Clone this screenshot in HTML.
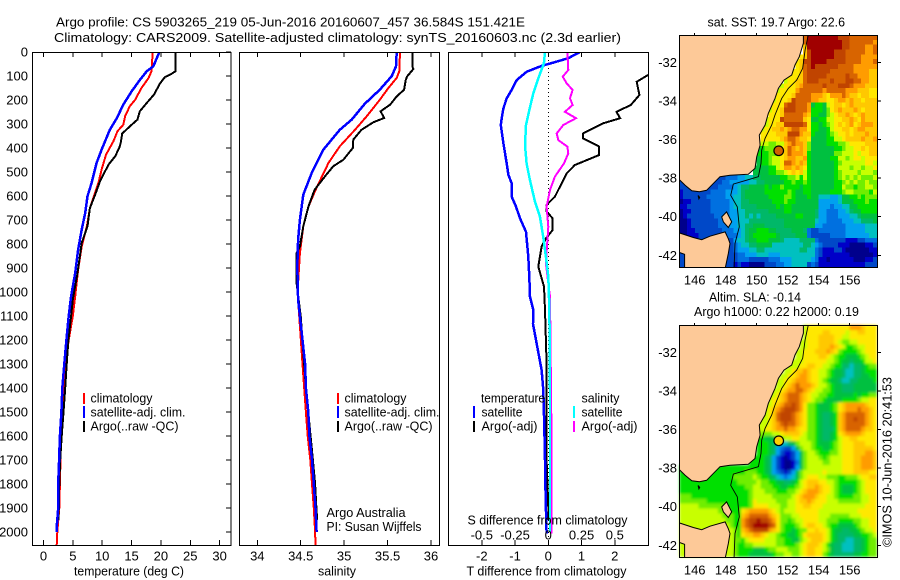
<!DOCTYPE html>
<html lang="en">
<head>
<meta charset="utf-8">
<title>Argo profile</title>
<style>
html,body{margin:0;padding:0;background:#fff;}
svg{display:block;font-family:"Liberation Sans",sans-serif;font-size:13px;fill:#000;}
text{fill:#000;}
.line{fill:none;stroke-width:2;stroke-linejoin:miter;shape-rendering:crispEdges;}
.frame{fill:none;stroke:#000;stroke-width:1;shape-rendering:crispEdges;}
.tick{stroke:#000;stroke-width:1;shape-rendering:crispEdges;}
.bar{stroke-width:2;shape-rendering:crispEdges;}
</style>
</head>
<body>
<svg id="fig" xmlns="http://www.w3.org/2000/svg" width="900" height="580" viewBox="0 0 900 580">
  <defs>
    <clipPath id="clip-t"><rect x="33" y="52" width="198" height="493"/></clipPath>
    <clipPath id="clip-s"><rect x="240" y="52" width="199" height="493"/></clipPath>
    <clipPath id="clip-d"><rect x="449" y="52" width="199" height="493"/></clipPath>
    <clipPath id="clip-m1"><rect x="679" y="35" width="198" height="232"/></clipPath>
    <clipPath id="clip-m2"><rect x="679" y="325" width="198" height="232"/></clipPath>
    <filter id="sla-smooth" filterUnits="userSpaceOnUse" x="670" y="320" width="215" height="245"><feGaussianBlur stdDeviation="1.2"/></filter>
  </defs>

  <text x="56" y="26.5" textLength="469" lengthAdjust="spacingAndGlyphs">Argo profile: CS 5903265_219 05-Jun-2016 20160607_457 36.584S 151.421E</text>
  <text x="54" y="42" textLength="567" lengthAdjust="spacingAndGlyphs">Climatology: CARS2009. Satellite-adjusted climatology: synTS_20160603.nc (2.3d earlier)</text>

  <g id="panel-t"></g>
  <g id="panel-s"></g>
  <g id="panel-d"></g>
  <g id="map-1"></g>
  <g id="map-2"></g>

  <text x="74" y="575.5" textLength="110" lengthAdjust="spacingAndGlyphs">temperature (deg C)</text>
  <text x="318" y="575.5" textLength="38" lengthAdjust="spacingAndGlyphs">salinity</text>
  <text x="466.5" y="575.5" textLength="160" lengthAdjust="spacingAndGlyphs">T difference from climatology</text>
  <text x="467.5" y="524.5" textLength="160" lengthAdjust="spacingAndGlyphs">S difference from climatology</text>

  <g>
    <line class="bar" x1="84" x2="84" y1="393" y2="404" stroke="#f00"/>
    <line class="bar" x1="84" x2="84" y1="406" y2="418" stroke="#00f"/>
    <line class="bar" x1="84" x2="84" y1="421" y2="432" stroke="#000"/>
    <text x="90.5" y="402.5" textLength="62" lengthAdjust="spacingAndGlyphs">climatology</text>
    <text x="90.5" y="416.5" textLength="95" lengthAdjust="spacingAndGlyphs">satellite-adj. clim.</text>
    <text x="90.5" y="430.5" textLength="88" lengthAdjust="spacingAndGlyphs">Argo(..raw -QC)</text>
  </g>
  <g>
    <line class="bar" x1="338" x2="338" y1="393" y2="404" stroke="#f00"/>
    <line class="bar" x1="338" x2="338" y1="406" y2="418" stroke="#00f"/>
    <line class="bar" x1="338" x2="338" y1="421" y2="432" stroke="#000"/>
    <text x="344.5" y="402.5" textLength="62" lengthAdjust="spacingAndGlyphs">climatology</text>
    <text x="344.5" y="416.5" textLength="95" lengthAdjust="spacingAndGlyphs">satellite-adj. clim.</text>
    <text x="344.5" y="430.5" textLength="88" lengthAdjust="spacingAndGlyphs">Argo(..raw -QC)</text>
  </g>
  <text x="326.5" y="517" textLength="79" lengthAdjust="spacingAndGlyphs">Argo Australia</text>
  <text x="326.5" y="531" textLength="95" lengthAdjust="spacingAndGlyphs">PI: Susan Wijffels</text>

  <g>
    <text x="481" y="402.5" textLength="64" lengthAdjust="spacingAndGlyphs">temperature</text>
    <line class="bar" x1="474" x2="474" y1="406" y2="418" stroke="#00f"/>
    <text x="481.5" y="416.5" textLength="41" lengthAdjust="spacingAndGlyphs">satellite</text>
    <line class="bar" x1="474" x2="474" y1="421" y2="432" stroke="#000"/>
    <text x="481.5" y="430.5" textLength="56" lengthAdjust="spacingAndGlyphs">Argo(-adj)</text>
    <text x="581.5" y="402.5" textLength="38" lengthAdjust="spacingAndGlyphs">salinity</text>
    <line class="bar" x1="574" x2="574" y1="406" y2="418" stroke="#0ff"/>
    <text x="581.5" y="416.5" textLength="41" lengthAdjust="spacingAndGlyphs">satellite</text>
    <line class="bar" x1="574" x2="574" y1="421" y2="432" stroke="#f0f"/>
    <text x="581.5" y="430.5" textLength="56" lengthAdjust="spacingAndGlyphs">Argo(-adj)</text>
  </g>

  <text x="707.5" y="26.5" textLength="137.5" lengthAdjust="spacingAndGlyphs">sat. SST: 19.7 Argo: 22.6</text>
  <text x="709" y="301.5" textLength="92" lengthAdjust="spacingAndGlyphs">Altim. SLA: -0.14</text>
  <text x="694" y="316" textLength="165" lengthAdjust="spacingAndGlyphs">Argo h1000: 0.22 h2000: 0.19</text>
  <text transform="translate(891.5,547) rotate(-90)" textLength="170" lengthAdjust="spacingAndGlyphs">©IMOS 10-Jun-2016 20:41:53</text>
</svg>

<script>
// ---------- axis tick data ----------
const depthTicks = [0,100,200,300,400,500,600,700,800,900,1000,1100,1200,1300,1400,1500,1600,1700,1800,1900,2000];
const tempTicks = [0,5,10,15,20,25,30];
const salTicks = [34,34.5,35,35.5,36];
const tDiffTicks = [-2,-1,0,1,2];
const sDiffTicks = [-0.5,-0.25,0,0.25,0.5];
const sDiffTickLabels = ['-0.5','-0.25','0','0.25','0.5'];
const lonTicks = [146,148,150,152,154,156];
const latTicks = [-32,-34,-36,-38,-40,-42];

// ---------- temperature profiles ----------
const tClimDepth = [0,80,108,150,199,226,268,303,330,372,428,490,546,608,650,726,810,907,1018,1100,1200,1300,1400,1500,1600,1700,1800,1900,2000,2055];
const tClimValue = [18.6,18.4,17.9,16.7,15.6,14.7,13.9,13.6,12.6,11.9,10.65,9.9,9.35,8.5,7.9,7.4,6.5,5.9,5.4,5.0,4.3,3.8,3.4,3.15,3.0,2.9,2.8,2.7,2.35,2.25];
const tSatDepth = [0,25,60,80,115,164,219,275,324,407,462,546,601,671,740,824,921,1018,1100,1200,1300,1400,1500,1600,1700,1800,1900,1980,2000];
const tSatValue = [19.75,19.3,18.7,17.6,16.45,15.0,13.6,12.5,11.3,9.9,9.05,8.2,7.5,7.1,6.5,5.9,5.4,4.7,4.3,3.9,3.55,3.2,3.05,2.8,2.65,2.5,2.5,2.25,2.25];
const tArgoDepth = [0,80,94,104,129,178,212,247,282,310,340,379,400,435,470,497,540,594,650,726,796,921,1032,1100,1200,1300,1400,1500,1600,1700,1800,1900,1950];
const tArgoValue = [22.5,22.5,21.6,20.7,19.9,18.8,17.6,16.4,16.0,14.7,13.4,13.15,12.9,12.2,11.05,10.5,9.6,8.8,7.9,7.5,6.5,5.8,5.0,4.7,4.25,3.95,3.7,3.4,3.1,2.85,2.7,2.6,2.55];

// ---------- salinity profiles ----------
const sClimDepth = [0,80,108,150,199,268,324,393,462,567,643,726,838,962,1032,1300,1400,1500,1600,1700,1800,1900,2000,2055];
const sClimValue = [35.643,35.635,35.605,35.51,35.41,35.26,35.125,34.95,34.82,34.68,34.59,34.53,34.49,34.47,34.47,34.52,34.54,34.56,34.58,34.61,34.63,34.65,34.665,34.67];
const sSatDepth = [0,60,101,157,215,282,324,407,504,594,699,782,893,1032,1300,1400,1500,1600,1700,1800,1900,2000];
const sSatValue = [35.605,35.597,35.547,35.41,35.24,35.086,34.95,34.76,34.626,34.53,34.49,34.47,34.46,34.47,34.55,34.56,34.587,34.6,34.63,34.65,34.67,34.683];
const sArgoDepth = [0,60,71,101,115,157,185,219,247,275,293,324,365,400,449,476,518,574,643,726,810,838,962,1100,1400,1700,1800,1900,1950];
const sArgoValue = [35.785,35.785,35.797,35.727,35.71,35.69,35.605,35.53,35.42,35.46,35.336,35.2,35.105,35.1,34.99,34.875,34.78,34.66,34.59,34.53,34.49,34.453,34.453,34.5,34.56,34.64,34.665,34.68,34.69];

// ---------- difference profiles ----------
const dTSatDepth = [0,26,44,58,82,117,158,193,235,276,304,381,464,512,547,603,644,693,749,853,936,1019,1075,1133,1200,1325,1408,1560,1700,1850,2006];
const dTSatValue = [0.95,0.6,0.15,-0.2,-0.65,-0.95,-1.1,-1.25,-1.35,-1.4,-1.43,-1.35,-1.25,-1.2,-1.1,-1.1,-0.97,-0.85,-0.67,-0.6,-0.57,-0.55,-0.45,-0.46,-0.37,-0.2,-0.15,-0.12,-0.1,-0.08,-0.05];
const dTArgoDepth = [0,96,124,179,221,249,276,297,339,360,394,429,471,506,603,637,665,693,742,776,811,894,978,1075,1300,1500,1700,1900,1950];
const dTArgoValue = [4.0,3.0,2.66,2.74,2.48,2.05,2.16,1.65,1.05,1.05,1.53,1.53,0.8,0.55,0.2,-0.05,-0.05,0.13,0.13,-0.07,-0.2,-0.3,-0.13,-0.1,-0.05,-0.05,-0.05,0.0,0.0];
const dSSatDepth = [0,47,110,172,242,304,388,464,533,624,686,769,853,936,1075,1400,2000];
const dSSatValue = [-0.025,-0.033,-0.075,-0.113,-0.143,-0.168,-0.175,-0.163,-0.138,-0.1,-0.063,-0.038,-0.018,0,0.008,0.0125,0.0125];
const dSArgoDepth = [0,75,103,131,158,193,221,249,276,304,339,367,394,422,464,519,575,644,728,797,881,964,1019,1638,2006];
const dSArgoValue = [0.143,0.15,0.108,0.138,0.183,0.163,0.183,0.125,0.208,0.113,0.063,0.075,0.143,0.15,0.118,0.05,0.0125,-0.0125,0,-0.008,-0.018,0,0.0125,0.025,0.025];

// ---------- geography ----------
const mainlandLon = [145,153.01,153.01,152.75,152.47,152.26,151.76,151.40,151.18,150.75,150.54,150.17,150.22,150.0,149.89,149.46,148.28,147.63,146.77,146.30,145.81,145.38,145];
const mainlandLat = [-30.5,-30.5,-31.01,-31.71,-32.14,-32.66,-32.92,-33.35,-33.87,-34.65,-35.25,-35.77,-36.29,-36.90,-37.50,-37.80,-37.85,-37.93,-38.63,-38.71,-38.66,-38.37,-38.07];
const tasmaniaLon = [145,145.91,146.45,146.99,147.96,148.17,148.28,148.17,147.96,145.35,145.35,145];
const tasmaniaLat = [-40.84,-41.08,-41.19,-41.01,-40.79,-41.14,-41.39,-41.91,-42.7,-42.7,-41.95,-41.85];
const flindersLon = [147.74,148.06,148.39,148.17,147.85];
const flindersLat = [-40.01,-39.75,-40.27,-40.56,-40.27];
const kingLon = [146.22,146.32,146.27];
const kingLat = [-38.9,-39.0,-39.08];
const isobathLon = [153.33,153.12,152.97,152.58,152.04,151.61,151.18,150.97,150.54,150.32,150.28,150.11,149.35,148.49,148.32,148.75,148.88,148.60,148.54];
const isobathLat = [-30.58,-31.36,-32.31,-32.92,-33.35,-33.87,-34.73,-35.25,-35.94,-36.55,-37.24,-37.93,-38.11,-38.31,-38.89,-39.49,-40.53,-41.39,-42.61];
const floatLon = [151.421];
const floatLat = [-36.584];

// ---------- map colour levels ----------
const levelColors = {'0':'#00008c','1':'#0000c8','2':'#0048c8','3':'#0070e0','4':'#00a0f0','5':'#00c0c0','6':'#00b868','7':'#00c040','8':'#00e000','9':'#70ee00','a':'#c8ff00','b':'#ffe800','c':'#ffc800','d':'#ff9c00','e':'#d86400','f':'#c04400','g':'#a00000'};

// ---------- SST cells: rows north to south, right-aligned to the eastern edge ----------
const sstRows = [
'eggggggggfffeeeeeee',
'egggggggggffeeeeeed',
'cgggggggggffeeeedde',
'cfggggggfffeeeeedde',
'bcfggggggfffeeeedddd',
'bcffggggfffffeeeeddde',
'bcefgffffffeeeedddddd',
'bbceffffffeeeeeeddddcc',
'bbbcefffffeeeeefeedddcc',
'abbccefffeeefeeeffeeddcc',
'abbbcdeeeeefeeefffedddccc',
'abbbbdeeeeeedeeeeedddcccbb',
'bbbbceeeedddcbdddedccbccbb',
'abbbcfeeeeddccbbcddcdccbccc',
'abbbeffeeed'+'7887'+'abccbcdcccccc',
'abbcfffeeed'+'8887'+'9bcdcccdcbccc',
'bbbceeeeedc'+'8877'+'9abccdcbcdccc',
'abbbfeeeeecb'+'7788'+'aabbccdcbdccc',
'abbccfffffeb'+'8878'+'9abcbcdbcdddc',
'abbccdcdeeddb'+'8877'+'8abbccbcddccc',
'bbbbcccfffdcc'+'8777'+'89abbcbcccdcc',
'bbbbbcdeedccb'+'7777'+'88aabccccdccd',
'aa99aacdeddc9'+'7777'+'88899abbbbccc',
'78999abcedcdc9'+'7777'+'77889aabbcbcc',
'888999bcedddc8'+'7777'+'7799aaababbcc',
'7889aabcddccd8'+'7777'+'788aa9abbabbb',
'7889aabeedcdc8'+'7777'+'7789aaaaaabba',
'777788abddcdcb8'+'7777'+'778aaa9aa9aab',
'77778899abcbca8'+'7777'+'7789aaaa9aaa9',
'222222222222'+'33344556'+'6777778899a8a8'+'7777'+'7789a9a9a999a',
'222222222'+'2233444445566'+'777778898898'+'7777'+'77889a9a99a99',
'2222222'+'222333'+'34'+'5'+'667777878898888788'+'7777'+'7788a99899aa9',
'12222222333344'+'45'+'677777888888987788'+'7777'+'78889aa99998a',
'12222223333344'+'55'+'677777788889987778'+'7755'+'5445778898999',
'01122222333334'+'55'+'667777778889887777'+'7744'+'4445777888988',
'11222222333334'+'55'+'666677777878877777'+'7744'+'4344557788888',
'01122222333334'+'45'+'566666677778877777'+'7644'+'3334456778888',
'01222222233334'+'45'+'565656666777778877'+'7644'+'3334445567777',
'00122222223334'+'45'+'556666666667777777'+'7544'+'3333444556667',
'00122222223334'+'45'+'566777666667777777'+'7443'+'3333344444555',
'00112222222333'+'44'+'567788877666677763'+'2233'+'3333344444555',
'00111222223333'+'34'+'567888888766667773'+'2222'+'2333344444455',
'22222222222222'+'45'+'567788877765555666'+'6322'+'2222211122333',
'22222222222222'+'34'+'556677775555555566'+'5432'+'2221110000112',
'22222222222222'+'34'+'445566555555555665'+'5321'+'1122100000011',
'22222222222222'+'23'+'344455544455555555'+'5321'+'1111110000001',
'22222222222222'+'23'+'332222233344455555'+'4311'+'0111111000112',
'22222222222222'+'12'+'110000222334455552'+'3211'+'1111111111222'
];

// ---------- SLA cells: same layout ----------
const slaRows = [
'abbbbbbbbbbbdddcbbb',
'abbbbccbbbbabbccbbb',
'abbbccccbbaabbbbbbb',
'aabbbccccba99aabbbbb',
'aabbbcccdcba889aabbb',
'aabbbcccdcb988889abbb',
'aabbbbccba98877789abb',
'aaabbbbbbaa98776778aab',
'aaabbccbbaa988665667899',
'aabccdcbbaa9877655667888',
'aabbcddcbbaa9877655667788',
'aabbcdddcbba98776556677778',
'aabcdedddcbaa9877666777777',
'aabcddeedcbaa99877666777777',
'aabcdeeedcbaa998877777878899',
'abbcdeeedcba998777788889aabb',
'aabcdeefedb'+'99877789'+'bcdddddcbb',
'aabcdefffedb'+'99877789'+'bcdddeddcb',
'aabcefffedcb'+'99876678'+'cdeeeeedcb',
'aaabcefffedcb'+'99876678'+'cdeefeedcb',
'aaabcdefeedcb'+'99876678'+'cdeeeeedcb',
'aabbcddeddcbb'+'99876668'+'cdeeeedccb',
'a999aabccccba'+'99876678'+'bcddddcbbb',
'8877789aabbaa9'+'9876678'+'abbccbbbbb',
'88876655679aaa'+'9877789'+'abbbcccbbb',
'888764322479aa'+'9887789'+'abbbcccccb',
'8887642112479a'+'a988899'+'abbbcccddc',
'888876421012479'+'aaa989aa'+'abbbccdddc',
'888876421001379'+'aaaa99aa'+'abbbccdddc',
'888888888888888888'+'888876421001479'+'aaaaaaaa'+'abbbccdddc',
'888888888888888889'+'99887643212479a'+'aaaabaaa'+'abbbccccbb',
'888888888888889999'+'9a988765434579a'+'bbbaa999'+'88999abbcc',
'888888888888888999'+'99a9988776678ab'+'cccbbaa9'+'888889abbb',
'8888888888888888899'+'aa9998877889abc'+'cdcbba9'+'877789abbb',
'8888888888888888889'+'aaa99988899abcd'+'ddcbba9'+'877789abbb',
'9998888888888888889'+'aaaaa99999abcdd'+'dcbbaa9'+'888899aabb',
'9999999888888888889'+'baaaaa999aabccd'+'cbbbaaa'+'999999aabb',
'aaaaa99999998888889'+'bbbbaaa99aabbcc'+'bbbaaaa'+'aaaaaaabbb',
'aaaaaaaaaa999888'+'bcdddddcba9aaabbb'+'bbbaaaaa'+'aaaaabbbbb',
'aaaaaaaaaaa99988'+'cdeeeeedcb999aabb'+'bbbaaa99'+'999aaabbbb',
'aaaaaaaaaaaa9988'+'deffgffedb9989aab'+'bbbaa999'+'888899aabb',
'aaaaaaaaaaaaa988'+'defggggfeb98889ab'+'ccbba988'+'777789aabb',
'aaaaaaaaaaaaaa98'+'cdeffffdcb9887899'+'bbcbba87'+'7667789aab',
'aaaaaaaaaaaaaa98'+'bccddcbaa9887789b'+'ccccba87'+'666677889a',
'aaaaaaaaaaaaaa998'+'abbbbaaa9988779ab'+'cccba87'+'6655667899',
'aaaaaaaaaaaaaa988'+'99aaaaaa998889abc'+'ccba876'+'6555667899',
'aaaaaaaaaaaaaa988'+'88777899aaa999abc'+'cbba976'+'6555667899',
'aaaaaaaaaaaaaa988'+'8777777899aa99abc'+'cbb9876'+'6666778899'
];

// ---------- axis functions ----------
const NS = 'http://www.w3.org/2000/svg';
const yDepth = d => 52 + 0.24 * d;
const xTemp = t => 43.5 + 5.87 * t;
const xSal = s => 257.3 + 86.85 * (s - 34);
const xTDiff = t => 548.3 + 33.25 * t;
const xSDiff = s => 548.3 + 133 * s;
const xLon = lon => 694.7 + 15.5 * (lon - 146);
const yLat = (lat, off) => off + 62.3 + 19.3 * (-32 - lat);

function make(tag, attrs, parent, text) {
  const el = document.createElementNS(NS, tag);
  for (const k in attrs) el.setAttribute(k, attrs[k]);
  if (text !== undefined) el.textContent = text;
  parent.appendChild(el);
  return el;
}

function drawFrame(g, x, y, w, h, name) {
  const el = make('rect', {x: x, y: y, width: w, height: h, class: 'frame'}, g);
  
  
}

function drawTick(g, x1, y1, x2, y2, name) {
  const el = make('line', {x1: x1, y1: y1, x2: x2, y2: y2, class: 'tick'}, g);
  
  
}

function drawLabel(g, x, y, str, anchor, name) {
  const el = make('text', {x: x, y: y, 'text-anchor': anchor}, g, str);
  
  
}

function drawProfile(g, depths, values, xFn, color, clip, name, width) {
  const pts = depths.map((d, i) => xFn(values[i]).toFixed(1) + ',' + yDepth(d).toFixed(1)).join(' ');
  const el = make('polyline', {points: pts, class: 'line', stroke: color, 'clip-path': 'url(#' + clip + ')', style: 'stroke-width:' + (width || 2)}, g);
  
  
}

// ---------- temperature panel ----------
const gT = document.getElementById('panel-t');
drawProfile(gT, tClimDepth, tClimValue, xTemp, '#f00', 'clip-t', 'climatology-temperature-line');
drawProfile(gT, tArgoDepth, tArgoValue, xTemp, '#000', 'clip-t', 'argo-temperature-line');
drawProfile(gT, tSatDepth, tSatValue, xTemp, '#00f', 'clip-t', 'satellite-temperature-line', 2.5);
drawFrame(gT, 32.5, 52.5, 198.5, 493, 'temperature-plot-frame');
depthTicks.forEach(d => {
  drawTick(gT, 226, yDepth(d), 231, yDepth(d), 'depth-tick');
  drawLabel(gT, 28, yDepth(d) + 4.5, String(d), 'end', 'depth-tick-label');
});
tempTicks.forEach(t => {
  drawTick(gT, xTemp(t), 52, xTemp(t), 57, 'temperature-top-tick');
  drawTick(gT, xTemp(t), 540, xTemp(t), 545, 'temperature-bottom-tick');
  drawLabel(gT, xTemp(t), 560.5, String(t), 'middle', 'temperature-tick-label');
});

// ---------- salinity panel ----------
const gS = document.getElementById('panel-s');
drawProfile(gS, sClimDepth, sClimValue, xSal, '#f00', 'clip-s', 'climatology-salinity-line');
drawProfile(gS, sArgoDepth, sArgoValue, xSal, '#000', 'clip-s', 'argo-salinity-line');
drawProfile(gS, sSatDepth, sSatValue, xSal, '#00f', 'clip-s', 'satellite-salinity-line', 2.5);
drawFrame(gS, 239.5, 52.5, 200, 493, 'salinity-plot-frame');
salTicks.forEach(s => {
  drawTick(gS, xSal(s), 52, xSal(s), 57, 'salinity-top-tick');
  drawTick(gS, xSal(s), 540, xSal(s), 545, 'salinity-bottom-tick');
  drawLabel(gS, xSal(s), 560.5, String(s), 'middle', 'salinity-tick-label');
});

// ---------- difference panel ----------
const gD = document.getElementById('panel-d');
const zeroLine = make('line', {x1: xTDiff(0), x2: xTDiff(0), y1: 52, y2: 545, stroke: '#000', 'stroke-width': 1, 'stroke-dasharray': '1 3', 'shape-rendering': 'crispEdges'}, gD);


drawProfile(gD, dTArgoDepth, dTArgoValue, xTDiff, '#000', 'clip-d', 'argo-t-difference-line');
drawProfile(gD, dTSatDepth, dTSatValue, xTDiff, '#00f', 'clip-d', 'satellite-t-difference-line', 2.5);
drawProfile(gD, dSArgoDepth, dSArgoValue, xSDiff, '#f0f', 'clip-d', 'argo-s-difference-line');
drawProfile(gD, dSSatDepth, dSSatValue, xSDiff, '#0ff', 'clip-d', 'satellite-s-difference-line', 2.5);
drawFrame(gD, 448.5, 52.5, 200, 493, 'difference-plot-frame');
tDiffTicks.forEach(t => {
  drawTick(gD, xTDiff(t), 52, xTDiff(t), 57, 'difference-top-tick');
  drawTick(gD, xTDiff(t), 540, xTDiff(t), 545, 'difference-bottom-tick');
  drawLabel(gD, xTDiff(t), 560.5, String(t), 'middle', 't-difference-tick-label');
});
sDiffTicks.forEach((s, i) => {
  drawLabel(gD, xSDiff(s), 539.5, sDiffTickLabels[i], 'middle', 's-difference-tick-label');
});

// ---------- maps ----------
function drawCells(g, rows, off, name) {
  const cw = 3.87, ch = 4.83, total = 51;
  const cells = make('g', {}, g);
  
  
  rows.forEach((row, m) => {
    const start = total - row.length;
    for (let i = 0; i < row.length; i++) {
      const c = levelColors[row[i]];
      if (!c) continue;
      const cell = make('rect', {x: (679.3 + cw * (start + i)).toFixed(2), y: (off + 35 + ch * m).toFixed(2), width: cw + 0.25, height: ch + 0.25, fill: c, 'shape-rendering': 'crispEdges'}, cells);
      
      
    }
  });
  return cells;
}

function geoPoints(lons, lats, off) {
  return lons.map((lon, i) => xLon(lon).toFixed(1) + ',' + yLat(lats[i], off).toFixed(1)).join(' ');
}

function drawLand(g, lons, lats, off, clip, name) {
  const el = make('polygon', {points: geoPoints(lons, lats, off), fill: '#fdc998', stroke: '#000', 'stroke-width': 1, 'clip-path': 'url(#' + clip + ')'}, g);
  
  
}

function drawMap(id, rows, off, clip, dotColor, prefix, smooth) {
  const g = document.getElementById(id);
  const bg = make('rect', {x: 679, y: off + 35, width: 198, height: 232, fill: '#fff'}, g);
  
  
  const cells = drawCells(g, rows, off, prefix + '-cells');
  if (smooth) cells.setAttribute('filter', 'url(#' + smooth + ')');
  drawLand(g, mainlandLon, mainlandLat, off, clip, prefix + '-mainland');
  drawLand(g, tasmaniaLon, tasmaniaLat, off, clip, prefix + '-tasmania');
  drawLand(g, flindersLon, flindersLat, off, clip, prefix + '-flinders-island');
  drawLand(g, kingLon, kingLat, off, clip, prefix + '-king-island');
  const iso = make('polyline', {points: geoPoints(isobathLon, isobathLat, off), fill: 'none', stroke: '#000', 'stroke-width': 0.9, 'clip-path': 'url(#' + clip + ')'}, g);
  
  
  const dot = make('circle', {cx: xLon(floatLon[0]), cy: yLat(floatLat[0], off), r: 4.8, fill: dotColor, stroke: '#000', 'stroke-width': 1.2}, g);
  
  
  drawFrame(g, 679.5, off + 35.5, 198, 232, prefix + '-frame');
  lonTicks.forEach(lon => {
    drawTick(g, xLon(lon), off + 33, xLon(lon), off + 35, prefix + '-lon-tick');
    drawLabel(g, xLon(lon), off + 284.5, String(lon), 'middle', prefix + '-lon-label');
  });
  latTicks.forEach(lat => {
    drawTick(g, 878, yLat(lat, off), 881, yLat(lat, off), prefix + '-lat-tick');
    drawLabel(g, 677, yLat(lat, off) + 4.5, String(lat), 'end', prefix + '-lat-label');
  });
}

drawMap('map-1', sstRows, 0, 'clip-m1', '#d06000', 'sst-map');
drawMap('map-2', slaRows, 290, 'clip-m2', '#ffd000', 'sla-map', 'sla-smooth');
</script>
</body>
</html>
